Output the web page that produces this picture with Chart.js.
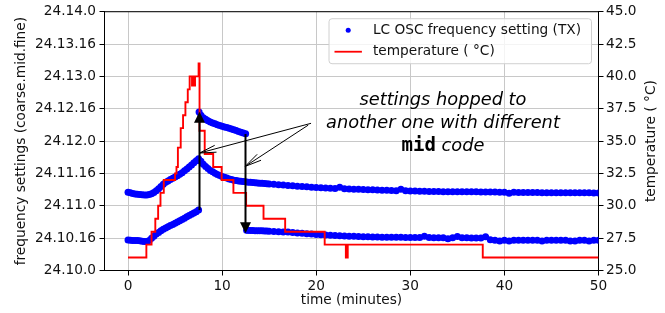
<!DOCTYPE html>
<html>
<head>
<meta charset="utf-8">
<script src="https://cdn.jsdelivr.net/npm/chart.js@4.4.1/dist/chart.umd.min.js"></script>
<style>
  html, body { margin: 0; padding: 0; background: #fff; }
  #wrap { width: 665px; height: 313px; }
</style>
</head>
<body>
<div id="wrap"><canvas id="chart" width="665" height="313"></canvas></div>
<script>
// time axis ticks (minutes)
const timeTickLabels = ['0', '10', '20', '30', '40', '50'];
// left axis: frequency setting code, plotted as 32*mid + fine relative to 24.10.0
const freqTickLabels = ['24.10.0', '24.10.16', '24.11.0', '24.11.16', '24.12.0',
  '24.12.16', '24.13.0', '24.13.16', '24.14.0'];
const tempTickLabels = ['25.0', '27.5', '30.0', '32.5', '35.0', '37.5', '40.0', '42.5', '45.0'];

// track that stays on the same mid code
const midTimes = [0, 0.25, 0.5, 0.75, 1, 1.25, 1.5, 1.75, 2, 2.25, 2.5, 2.75, 3, 3.25, 3.5, 3.75,
  4, 4.25, 4.5, 4.75, 5, 5.25, 5.5, 5.75, 6, 6.25, 6.5, 6.75, 7, 7.25, 7.5, 7.75,
  8, 8.25, 8.5, 8.75, 9, 9.25, 9.5, 9.75, 10, 10.25, 10.5, 10.75, 11, 11.25, 11.5, 11.75,
  12, 12.25, 12.5, 12.75, 13, 13.25, 13.5, 13.75, 14, 14.25, 14.5, 14.75, 15,
  15.5, 16, 16.5, 17, 17.5, 18, 18.5, 19, 19.5, 20, 20.5, 21, 21.5, 22, 22.5, 23, 23.5,
  24, 24.5, 25, 25.5, 26, 26.5, 27, 27.5, 28, 28.5, 29, 29.5, 30, 30.5, 31, 31.5, 32,
  32.5, 33, 33.5, 34, 34.5, 35, 35.5, 36, 36.5, 37, 37.5, 38, 38.5, 39, 39.5, 40, 40.5,
  41, 41.5, 42, 42.5, 43, 43.5, 44, 44.5, 45, 45.5, 46, 46.5, 47, 47.5, 48, 48.5, 49, 49.5, 50];
const midCodes = [38.7, 38.4, 38.1, 37.9, 37.7, 37.6, 37.5, 37.4, 37.4,
  37.6, 38.0, 38.6, 39.4, 40.4, 41.5, 42.7, 43.6,
  44.3, 45.0, 45.6, 46.2, 46.9, 47.6, 48.4, 49.3,
  50.2, 51.2, 52.2, 53.3, 54.3, 55.3, 54.0, 52.6,
  51.4, 50.4, 49.5, 48.8, 48.1, 47.5, 47.0, 46.5,
  46.1, 45.7, 45.3, 45.0, 44.7, 44.5, 44.3, 44.1,
  44.0, 43.9, 43.7, 43.6, 43.5, 43.4, 43.3, 43.2,
  43.1, 43.0, 42.9, 42.8,
  42.6, 42.4, 42.3, 42.1, 41.9, 41.7, 41.5, 41.4, 41.2, 41.0,
  40.9, 40.8, 40.7, 40.6, 41.2, 40.4, 40.3, 40.2, 40.2, 40.1,
  40.0, 39.9, 39.8, 39.7, 39.7, 39.6, 39.5, 40.2, 39.4, 39.3,
  39.3, 39.2, 39.2, 39.1, 39.1, 39.1, 39.0, 39.0, 39.0, 39.0,
  38.9, 38.9, 38.9, 38.9, 38.8, 38.8, 38.8, 38.8, 38.7, 38.7,
  38.2, 38.7, 38.6, 38.6, 38.6, 38.6, 38.6, 38.5, 38.5, 38.5,
  38.5, 38.5, 38.4, 38.4, 38.4, 38.4, 38.4, 38.4, 38.3, 38.3];

// track that hops up at ~7.5 min and back down at ~12.5 min
const hopTimes = [0, 0.25, 0.5, 0.75, 1, 1.25, 1.5, 1.75, 2, 2.25, 2.5, 2.75, 3, 3.25, 3.5, 3.75,
  4, 4.25, 4.5, 4.75, 5, 5.25, 5.5, 5.75, 6, 6.25, 6.5, 6.75, 7, 7.25, 7.5, 7.55, 7.75,
  8, 8.25, 8.5, 8.75, 9, 9.25, 9.5, 9.75, 10, 10.25, 10.5, 10.75, 11, 11.25, 11.5, 11.75,
  12, 12.25, 12.5, 12.6, 12.75, 13, 13.25, 13.5, 13.75, 14, 14.25, 14.5, 14.75, 15,
  15.5, 16, 16.5, 17, 17.5, 18, 18.5, 19, 19.5, 20, 20.5, 21, 21.5, 22, 22.5, 23, 23.5,
  24, 24.5, 25, 25.5, 26, 26.5, 27, 27.5, 28, 28.5, 29, 29.5, 30, 30.5, 31, 31.5, 32,
  32.5, 33, 33.5, 34, 34.5, 35, 35.5, 36, 36.5, 37, 37.5, 38, 38.5, 39, 39.5, 40, 40.5,
  41, 41.5, 42, 42.5, 43, 43.5, 44, 44.5, 45, 45.5, 46, 46.5, 47, 47.5, 48, 48.5, 49, 49.5, 50];
const hopCodes = [15.1, 15.0, 14.9, 14.8, 14.8, 14.7, 14.5, 14.4, 14.3,
  14.8, 15.9, 17.0, 18.0, 18.8, 19.6, 20.4, 21.0,
  21.6, 22.2, 22.8, 23.4, 24.0, 24.6, 25.2, 25.9,
  26.6, 27.2, 27.8, 28.5, 29.1, 29.9,
  78.4,
  76.8, 75.6,
  74.8, 74.1, 73.5, 73.0, 72.6, 72.1, 71.7, 71.3,
  71.0, 70.7, 70.3, 70.0, 69.6, 69.2, 68.8, 68.4,
  68.0, 67.6,
  19.9,
  19.9, 19.8, 19.8, 19.7, 19.7, 19.6,
  19.6, 19.5, 19.5, 19.4,
  19.3, 19.2, 19.1, 19.0, 18.8, 18.6, 18.4, 18.2, 18.0, 17.8,
  17.7, 17.5, 17.4, 17.3, 17.2, 17.1, 17.0, 16.9, 16.8, 16.7,
  16.7, 16.6, 16.6, 16.5, 16.5, 16.4, 16.4, 16.4, 16.3, 16.3,
  16.3, 16.3, 16.9, 16.3, 16.2, 16.2, 16.2, 15.7, 16.2, 16.8,
  16.2, 16.2, 16.1, 16.1, 16.1, 16.7, 15.2, 15.0, 14.6, 15.0,
  14.6, 15.0, 15.0, 15.0, 15.0, 15.0, 15.0, 14.6, 15.0, 15.0,
  15.0, 15.0, 15.0, 14.6, 14.6, 15.0, 15.0, 14.6, 15.0, 15.0];

// temperature: each value holds until the next change time
const tempTimes = [0, 1.95, 2.5, 2.9, 3.2, 3.45, 3.8, 5.0, 5.15, 5.3, 5.6, 5.85, 6.1, 6.35,
  6.55, 6.8, 6.88, 7.05, 7.12, 7.5, 7.6, 8.15, 9.05, 9.95, 11.2, 12.55, 14.4, 16.7, 20.9,
  23.15, 23.35, 37.7, 50];
const tempValues = [26, 27, 28, 29, 30, 31, 32, 32.5, 33, 34.5, 36, 37, 38, 39,
  40, 39.3, 40, 39.3, 40, 41, 35.8, 34, 33, 32, 31, 30, 29, 28, 27,
  26, 27, 26, 26];

// annotation (data units of time / left axis)
const hopArrows = [{ t: 7.57, from: 29.9, to: 78.5 }, { t: 12.45, from: 67.5, to: 18.4 }];
const pointerArrows = [
  { t0: 19.45, v0: 72.8, t1: 7.6, v1: 58.1 },
  { t0: 19.15, v0: 71.9, t1: 12.45, v1: 51.5 }
];
const noteCenter = { t: 33.47, v: [81.8, 70.3, 59.1] };
const noteLines = ['settings hopped to', 'another one with different'];

const FONT = 'DejaVu Sans';
const tickFont = { family: FONT, size: 13.7 };

const freqPoints = midTimes.map((t, i) => ({ x: t, y: midCodes[i] }))
  .concat(hopTimes.map((t, i) => ({ x: t, y: hopCodes[i] })));
const tempPoints = tempTimes.map((t, i) => ({ x: t, y: tempValues[i] }));

function arrowHeadOpen(ctx, x0, y0, x1, y1) {
  const ang = Math.atan2(y0 - y1, x0 - x1);
  const len = 17, spread = 0.21;
  ctx.beginPath();
  ctx.moveTo(x1 + len * Math.cos(ang - spread), y1 + len * Math.sin(ang - spread));
  ctx.lineTo(x1, y1);
  ctx.lineTo(x1 + len * Math.cos(ang + spread), y1 + len * Math.sin(ang + spread));
  ctx.stroke();
}

const extras = {
  id: 'extras',
  afterDatasetsDraw(chart) {
    const { ctx, chartArea: area, scales } = chart;
    const px = t => scales.x.getPixelForValue(t);
    const py = v => scales.yF.getPixelForValue(v);
    ctx.save();

    // top spine
    ctx.strokeStyle = '#000';
    ctx.lineWidth = 1;
    ctx.beginPath();
    ctx.moveTo(area.left, area.top);
    ctx.lineTo(area.right, area.top);
    ctx.stroke();

    // hop arrows (thick, filled head)
    ctx.fillStyle = '#000';
    hopArrows.forEach(a => {
      const x = Math.round(px(a.t)) + 0.5;
      const y0 = py(a.from), y1 = py(a.to);
      const dir = Math.sign(y1 - y0);
      ctx.lineWidth = 2;
      ctx.beginPath();
      ctx.moveTo(x, y0);
      ctx.lineTo(x, y1 - dir * 9);
      ctx.stroke();
      ctx.beginPath();
      ctx.moveTo(x, y1);
      ctx.lineTo(x - 5.5, y1 - dir * 11);
      ctx.lineTo(x + 5.5, y1 - dir * 11);
      ctx.closePath();
      ctx.fill();
    });

    // pointers from the note
    ctx.lineWidth = 1;
    pointerArrows.forEach(p => {
      const x0 = px(p.t0), y0 = py(p.v0), x1 = px(p.t1), y1 = py(p.v1);
      ctx.beginPath();
      ctx.moveTo(x0, y0);
      ctx.lineTo(x1, y1);
      ctx.stroke();
      arrowHeadOpen(ctx, x0, y0, x1, y1);
    });

    // note text
    const cx = px(noteCenter.t);
    ctx.fillStyle = '#000';
    ctx.textBaseline = 'alphabetic';
    ctx.textAlign = 'center';
    ctx.font = 'italic 17.8px ' + FONT;
    noteLines.forEach((s, i) => ctx.fillText(s, cx, py(noteCenter.v[i])));
    const monoFont = 'bold 19px "DejaVu Sans Mono"';
    const itFont = 'italic 17.8px ' + FONT;
    ctx.font = monoFont;
    const wMid = ctx.measureText('mid').width;
    ctx.font = itFont;
    const wCode = ctx.measureText(' code').width;
    const x3 = cx - (wMid + wCode) / 2;
    const y3 = py(noteCenter.v[2]);
    ctx.textAlign = 'left';
    ctx.font = monoFont;
    ctx.fillText('mid', x3, y3);
    ctx.font = itFont;
    ctx.fillText(' code', x3 + wMid, y3);

    // legend
    const lw = 262.5, lh = 45;
    const lx = area.right - 7 - lw, ly = area.top + 7;
    ctx.beginPath();
    ctx.roundRect(lx, ly, lw, lh, 3);
    ctx.fillStyle = 'rgba(255,255,255,0.8)';
    ctx.fill();
    ctx.strokeStyle = '#d0d0d0';
    ctx.lineWidth = 1;
    ctx.stroke();
    const hx = lx + 5.5, hw = 27.4;
    ctx.fillStyle = '#0000ff';
    ctx.beginPath();
    ctx.arc(hx + hw / 2, ly + 11.5, 2.5, 0, Math.PI * 2);
    ctx.fill();
    ctx.strokeStyle = '#ff0000';
    ctx.lineWidth = 1.8;
    ctx.beginPath();
    ctx.moveTo(hx, ly + 33);
    ctx.lineTo(hx + hw, ly + 33);
    ctx.stroke();
    ctx.fillStyle = '#111';
    ctx.font = '13.7px ' + FONT;
    ctx.textAlign = 'left';
    ctx.textBaseline = 'middle';
    ctx.fillText('LC OSC frequency setting (TX)', hx + hw + 11, ly + 12);
    ctx.fillText('temperature ( °C)', hx + hw + 11, ly + 33);

    // right axis title, reads bottom to top like the left one
    ctx.save();
    ctx.translate(chart.width - 13.3, (area.top + area.bottom) / 2);
    ctx.rotate(-Math.PI / 2);
    ctx.textAlign = 'center';
    ctx.fillText('temperature ( °C)', 0, 0);
    ctx.restore();

    ctx.restore();
  }
};

new Chart(document.getElementById('chart'), {
  type: 'scatter',
  data: {
    datasets: [
      {
        label: 'temperature ( °C)',
        data: tempPoints,
        yAxisID: 'yT',
        showLine: true,
        stepped: 'before',
        borderColor: '#ff0000',
        borderWidth: 1.9,
        pointRadius: 0,
        order: 0
      },
      {
        label: 'LC OSC frequency setting (TX)',
        data: freqPoints,
        yAxisID: 'yF',
        backgroundColor: '#0000ff',
        borderWidth: 0,
        pointRadius: 3.5,
        order: 1
      }
    ]
  },
  options: {
    responsive: false,
    animation: false,
    devicePixelRatio: 1,
    layout: { padding: { top: 11.5, left: 0, right: 0, bottom: 0 } },
    plugins: { legend: { display: false }, tooltip: { enabled: false } },
    scales: {
      x: {
        type: 'linear',
        min: -2.5,
        max: 50,
        afterFit: s => { s.height = 42.5; },
        border: { color: '#000', width: 1 },
        grid: { color: '#c8c8c8', lineWidth: 1, tickColor: '#000', tickLength: 5 },
        ticks: {
          stepSize: 10, includeBounds: false, maxRotation: 0, autoSkip: false,
          padding: 2.5, color: '#111', font: tickFont,
          callback: (v, i) => timeTickLabels[i]
        },
        title: {
          display: true, text: 'time (minutes)', color: '#111',
          font: tickFont, padding: { top: 0, bottom: 4.8 }
        }
      },
      yF: {
        type: 'linear',
        position: 'left',
        min: 0,
        max: 128,
        afterFit: s => { s.width = 104.5; },
        border: { color: '#000', width: 1 },
        grid: { color: '#c8c8c8', lineWidth: 1, tickColor: '#000', tickLength: 5 },
        ticks: {
          stepSize: 16, includeBounds: false, autoSkip: false,
          padding: 3.5, color: '#111', font: tickFont,
          callback: (v, i) => freqTickLabels[i]
        },
        title: {
          display: true, text: 'frequency settings (coarse.mid.fine)', color: '#111',
          font: tickFont, padding: { top: 13.5, bottom: 0 }
        }
      },
      yT: {
        type: 'linear',
        position: 'right',
        min: 25,
        max: 45,
        afterFit: s => { s.width = 66.5; },
        border: { color: '#000', width: 1 },
        grid: { drawOnChartArea: false, tickColor: '#000', tickLength: 5 },
        ticks: {
          stepSize: 2.5, includeBounds: false, autoSkip: false,
          padding: 2.5, color: '#111', font: tickFont,
          callback: (v, i) => tempTickLabels[i]
        }
      }
    }
  },
  plugins: [extras]
});
</script>
</body>
</html>
